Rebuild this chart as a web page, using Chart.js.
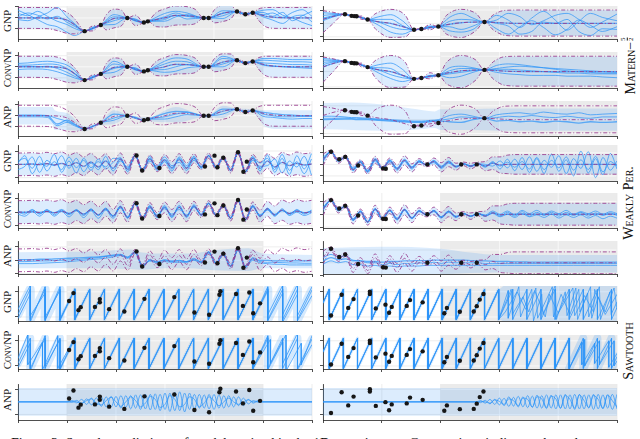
<!DOCTYPE html>
<html><head><meta charset="utf-8">
<script src="https://cdn.jsdelivr.net/npm/chart.js@4.4.1/dist/chart.umd.min.js"></script>
<style>
html,body{margin:0;padding:0;background:#fff;}
body{width:640px;height:439px;overflow:hidden;position:relative;font-family:"Liberation Serif","DejaVu Serif",serif;color:#111;}
canvas{position:absolute;}
.vl{position:absolute;white-space:nowrap;transform:translate(-50%,-50%) rotate(-90deg);line-height:1;}
.sc{font-variant:small-caps;}
.fr{display:inline-block;vertical-align:0.35em;font-size:7px;line-height:7px;text-align:center;margin-left:1px;}
.fr span{display:block;}
.fr .n{border-bottom:0.7px solid #111;}
#cap{position:absolute;left:11px;top:436px;font-size:14px;white-space:nowrap;}
</style></head><body>
<div class="vl" style="left:7px;top:21px;font-size:11px">GNP</div>
<div class="vl" style="left:7px;top:68px;font-size:11px"><span class="sc">Conv</span>NP</div>
<div class="vl" style="left:7px;top:117px;font-size:11px">ANP</div>
<div class="vl" style="left:7px;top:161px;font-size:11px">GNP</div>
<div class="vl" style="left:7px;top:209px;font-size:11px"><span class="sc">Conv</span>NP</div>
<div class="vl" style="left:7px;top:256px;font-size:11px">ANP</div>
<div class="vl" style="left:7px;top:302px;font-size:11px">GNP</div>
<div class="vl" style="left:7px;top:350px;font-size:11px"><span class="sc">Conv</span>NP</div>
<div class="vl" style="left:7px;top:400px;font-size:11px">ANP</div>
<div class="vl" style="left:629px;top:66px;font-size:14px"><span class="sc">Matern</span>&#8722;<span class="fr"><span class="n">5</span><span>2</span></span></div>
<div class="vl" style="left:629px;top:203px;font-size:14px"><span class="sc">Weakly Per.</span></div>
<div class="vl" style="left:629px;top:351px;font-size:14px"><span class="sc">Sawtooth</span></div>
<div id="cap">Figure 3: Sample predictions of models trained in the 1D experiments. Grey regions indicate where the</div>
<script>
// ================= DATA =================
// ---- Matern-5/2, left column ----
const mL_ctxX = [-1.64,-1.31,-0.77,-0.43,-0.35,0.79,0.89,1.47,1.64,1.79];
const mL_ctxY = [-2.4,-1.28,0,-0.83,-0.62,0,0,1.17,0.67,0.95];
const mL_tx = [-3,-2.4,-2.2,-2.0,-1.85,-1.75,-1.64,-1.475,-1.31,-1.2,-1.04,-0.88,-0.77,-0.6,-0.43,-0.35,-0.18,-0.01,0.22,0.45,0.62,0.79,0.89,1.01,1.18,1.35,1.47,1.555,1.64,1.715,1.79,1.9,2.0,2.1,2.3,2.6,3.0];
const mL_tm = [0,0,-0.05,-0.4,-1.2,-1.9,-2.4,-1.9,-1.28,-0.8,-0.1,0,0,-0.45,-0.83,-0.62,-0.3,0,0.45,0.4,0.25,0,0,0.3,0.85,1.1,1.17,0.9,0.67,0.78,0.95,0.7,0.45,0.25,0.08,0,0];
const mL_tu = [1.9,1.9,1.75,1.0,-0.1,-1.3,-2.4,-1.45,-1.28,0.56,1.6,1.36,0,0.5,-0.83,-0.62,0.98,1.65,2.2,2.05,1.53,0,0,1.5,2.35,2.3,1.17,1.2,0.67,1.03,0.95,1.6,1.85,1.9,1.9,1.9,1.9];
const mL_tl = [-1.9,-1.95,-2.3,-2.8,-2.9,-2.7,-2.4,-2.35,-1.28,-2.16,-1.8,-1.36,0,-1.4,-0.83,-0.62,-1.58,-1.65,-1.3,-1.25,-1.03,0,0,-0.9,-0.65,-0.1,1.17,0.6,0.67,0.53,0.95,-0.3,-1.3,-1.75,-1.9,-1.9,-1.9];
const mL_sx = [-3,-2.8,-2.6,-2.4,-2.2,-2.0,-1.85,-1.64,-1.475,-1.31,-1.04,-0.77,-0.6,-0.43,-0.35,-0.01,0.22,0.45,0.79,0.89,1.18,1.47,1.555,1.64,1.715,1.79,2.0,2.2,2.4,2.6,2.8,3.0];
const mLg1 = [0.8,0.4,1.2,0.3,-0.6,-1.2,-1.9,-2.4,-1.9,-1.28,0.6,0,-0.3,-0.83,-0.62,0.8,1.2,0.9,0,0,1.3,1.17,0.95,0.67,0.8,0.95,1.0,0.3,1.0,-0.5,0.4,1.2];
const mLg2 = [0.2,0.9,0.5,-0.2,0.3,-0.8,-1.5,-2.4,-1.7,-1.28,-0.5,0,-0.6,-0.83,-0.62,-0.6,0.2,0.6,0,0,0.4,1.17,0.9,0.67,0.75,0.95,0.2,-0.4,-1.0,0.2,0.5,-0.7];
const mLg3 = [1.4,0.6,-0.3,-1.2,-1.6,-2.6,-3.2,-2.4,-2.0,-1.28,-1.2,0,-0.2,-0.83,-0.62,0.2,0.9,0.3,0,0,0.9,1.17,0.85,0.67,0.85,0.95,1.4,1.5,0.5,0.0,-0.8,-1.4];
const mLg4 = [-0.3,-0.5,0.2,0.9,1.9,0.2,-1.0,-2.4,-1.8,-1.28,0.2,0,-0.5,-0.83,-0.62,-0.3,0.5,-0.2,0,0,-0.1,1.17,0.8,0.67,0.7,0.95,0.6,0.9,0.1,1.0,1.5,0.3];
const mLc1 = [0.3,0.3,0.4,0.5,0.4,-0.3,-1.2,-2.4,-1.8,-1.28,0.5,0,-0.3,-0.83,-0.62,0.5,1.0,0.9,0,0,1.5,1.17,0.95,0.67,0.85,0.95,1.2,1.1,1.0,0.9,0.9,0.8];
const mLc2 = [0,0.1,0.0,0.1,-0.3,-1.0,-1.7,-2.4,-1.9,-1.28,-0.3,0,-0.5,-0.83,-0.62,-0.5,0.0,0.4,0,0,0.5,1.17,0.9,0.67,0.75,0.95,0.7,0.6,0.5,0.4,0.4,0.3];
const mLc3 = [-0.5,-0.4,-0.4,-0.5,-0.9,-1.5,-2.0,-2.4,-2.0,-1.28,-1.0,0,-0.6,-0.83,-0.62,-1.0,-0.8,-0.2,0,0,0.0,1.17,0.85,0.67,0.7,0.95,0.3,0.1,0.0,-0.1,-0.2,-0.3];
const mLc4 = [0.6,0.7,0.9,1.0,0.8,0.3,-0.6,-2.4,-1.7,-1.28,1.0,0,-0.2,-0.83,-0.62,1.0,1.6,1.4,0,0,1.9,1.17,1.0,0.67,0.9,0.95,1.5,1.5,1.4,1.3,1.3,1.3];
const mLa1 = [0,0,0,0,-0.5,-1.0,-1.6,-2.4,-1.9,-1.28,-0.4,0,-0.4,-0.83,-0.62,-0.2,0.3,0.6,0,0,0.8,1.17,0.9,0.67,0.8,0.95,0.3,0.0,-0.2,-0.2,-0.1,-0.1];
const mLa2 = [0.1,0.1,0.1,0.0,-1.5,-0.8,-1.5,-2.4,-1.9,-1.28,0.3,0,-0.3,-0.83,-0.62,0.4,0.8,0.7,0,0,1.2,1.17,0.95,0.67,0.8,0.95,0.6,0.4,0.2,0.1,0.0,0.0];
const mLa3 = [-0.2,-0.2,-0.2,-0.3,-1.8,-1.2,-1.8,-2.4,-2.0,-1.28,-0.8,0,-0.5,-0.83,-0.62,-0.6,-0.2,0.2,0,0,0.3,1.17,0.85,0.67,0.75,0.95,-0.1,-0.3,-0.5,-0.6,-0.5,-0.5];
const mLa_bx = [-3,-2.3,-2.25,-2.0,-1.64,-1.31,-1.04,-0.77,-0.35,0.22,0.79,0.89,1.18,1.47,1.79,2.05,2.3,3];
const mLa_bu = [1.6,1.6,1.0,0.5,-1.9,-0.9,1.0,0.2,-0.3,1.6,0.2,0.2,1.8,1.3,1.2,1.0,1.0,1.0];
const mLa_bl = [-1.6,-1.6,-2.6,-2.6,-2.8,-1.7,-1.5,-0.4,-1.0,-1.2,-0.3,-0.3,-0.4,0.9,0.6,-2.0,-2.4,-2.4];

// ---- Matern-5/2, right column ----
const mR_ctxX = [0.373,0.486,0.531,0.571,0.758,1.548,1.673,1.961,2.746];
const mR_ctxY = [1.36,1.13,1.09,1.07,0.58,-0.95,-0.84,-0.47,0.22];
const mR_tx = [0,0.15,0.373,0.43,0.486,0.531,0.571,0.66,0.758,0.9,1.15,1.4,1.548,1.61,1.673,1.82,1.961,2.1,2.35,2.6,2.746,2.9,3.1,3.4,5];
const mR_tm = [0.6,1.0,1.36,1.25,1.13,1.09,1.07,0.85,0.58,0.3,0.0,-0.6,-0.95,-0.9,-0.84,-0.6,-0.47,-0.2,0.1,0.2,0.22,0.15,0.05,0,0];
const mR_tu = [1.9,1.7,1.36,1.4,1.13,1.09,1.07,1.1,0.58,1.5,2.1,1.2,-0.95,-0.8,-0.84,-0.15,-0.47,1.2,2.1,1.5,0.22,1.3,1.95,2.0,2.0];
const mR_tl = [-1.4,-0.2,1.36,1.1,1.13,1.09,1.07,0.6,0.58,-0.9,-2.1,-2.0,-0.95,-1.0,-0.84,-0.95,-0.47,-1.6,-2.1,-1.1,0.22,-1.0,-1.8,-1.9,-1.9];
const mR_sx = [0,0.15,0.373,0.486,0.571,0.758,0.95,1.15,1.35,1.548,1.673,1.82,1.961,2.15,2.35,2.55,2.746,2.95,3.15,3.35,3.55,3.75,3.95,4.15,4.35,4.55,4.75,5.0];
const mRg1 = [1.2,1.3,1.36,1.13,1.07,0.58,1.0,1.3,0.4,-0.95,-0.84,-0.6,-0.47,0.9,1.5,0.8,0.22,1.2,0.5,-0.6,0.8,1.8,0.5,-1.0,0.3,1.5,0.9,0.4];
const mRg2 = [0.4,0.9,1.36,1.13,1.07,0.58,0.2,-0.5,-0.9,-0.95,-0.84,-0.5,-0.47,-0.5,-0.9,-0.4,0.22,-0.8,-1.6,-0.5,0.4,-0.6,-1.7,-0.9,0.5,-0.3,-1.2,-0.5];
const mRg3 = [1.6,1.5,1.36,1.13,1.07,0.58,-0.3,-1.3,-1.6,-0.95,-0.84,-0.4,-0.47,0.3,0.6,0.5,0.22,0.5,1.5,1.0,-0.2,0.4,1.2,1.5,0.6,-0.6,0.2,1.4];
const mRg4 = [0.8,1.1,1.36,1.13,1.07,0.58,0.6,0.6,-0.3,-0.95,-0.84,-0.7,-0.47,-1.1,-1.3,-0.9,0.22,0.0,-0.4,-1.6,-1.2,0.2,0.0,0.6,-1.2,-1.8,-0.8,-0.9];
const mRc1 = [1.5,1.45,1.36,1.13,1.07,0.58,0.9,1.1,0.3,-0.95,-0.84,-0.6,-0.47,0.5,0.7,0.5,0.22,0.4,0.6,0.7,0.6,0.5,0.4,0.3,0.2,0.1,0.0,-0.1];
const mRc2 = [0.9,1.2,1.36,1.13,1.07,0.58,0.2,-0.4,-0.8,-0.95,-0.84,-0.5,-0.47,-0.3,-0.1,0.1,0.22,0.3,0.3,0.2,0.1,0.0,-0.1,-0.2,-0.2,-0.3,-0.3,-0.3];
const mRc3 = [1.2,1.3,1.36,1.13,1.07,0.58,-0.2,-0.9,-1.3,-0.95,-0.84,-0.55,-0.47,-0.8,-0.6,-0.1,0.22,-0.1,-0.3,-0.4,-0.5,-0.5,-0.5,-0.6,-0.6,-0.6,-0.7,-0.8];
const mRc4 = [1.7,1.6,1.36,1.13,1.07,0.58,0.5,0.4,-0.5,-0.95,-0.84,-0.7,-0.47,0.1,0.4,0.4,0.22,0.8,1.0,0.9,0.7,0.5,0.3,0.1,0.0,-0.1,-0.2,-0.2];
const mRa1 = [0.2,0.2,0.25,0.2,0.2,0.1,0.0,-0.1,-0.2,-0.3,-0.3,-0.2,-0.1,0.1,0.4,0.3,0.2,0.3,0.5,0.4,0.6,0.4,0.3,0.5,0.3,0.2,0.4,0.4];
const mRa2 = [0.0,0.05,0.1,0.1,0.0,0.0,-0.1,-0.2,-0.3,-0.4,-0.4,-0.3,-0.2,-0.3,-0.4,0.0,0.2,-0.2,-0.1,-0.3,-0.2,-0.4,-0.2,-0.3,-0.5,-0.3,-0.4,-0.3];
const mRa3 = [0.5,0.5,0.4,0.3,0.3,0.2,0.1,0.0,-0.1,-0.2,-0.2,-0.1,0.0,0.6,0.8,0.5,0.2,0.7,0.9,1.0,0.8,1.1,0.9,0.8,1.0,0.7,0.8,0.9];
const mRa_bx = [0,0.5,1.0,1.5,1.9,2.0,2.5,3.0,5];
const mRa_bu = [2.4,2.5,2.2,1.6,1.2,1.5,1.5,1.6,1.6];
const mRa_bl = [-1.4,-1.5,-1.6,-1.5,-1.2,-1.5,-1.5,-1.6,-1.6];

// ---- Weakly periodic, left column ----
const wL_ctxX = [-0.581,-0.466,-0.114,0.815,1.01,1.07,1.19,1.49,1.60,1.67];
const wL_ctxY = [1.33,-0.93,-0.56,-0.33,1.3,-0.44,0.99,1.81,-1.11,0.4];
const wL_x = [-3.0,-2.86,-2.71,-2.56,-2.41,-2.26,-2.11,-1.96,-1.81,-1.66,-1.51,-1.36,-1.21,-1.06,-0.91,-0.76,-0.61,-0.46,-0.31,-0.16,-0.01,0.14,0.29,0.44,0.59,0.74,0.89,1.04,1.19,1.34,1.49,1.64,1.79,1.94,2.09,2.24,2.39,2.54,2.69,2.84,2.99];
const wL_tm = [0,0,0.05,-0.05,0.1,-0.1,0.15,-0.2,0.25,-0.3,0.35,-0.4,0.5,-0.6,0.8,-0.8,1.33,-0.93,0.8,-0.6,0.7,-0.5,0.7,-0.6,0.9,-0.4,1.3,-0.45,1.0,-0.9,1.8,-1.1,0.9,-0.6,0.5,-0.4,0.3,-0.2,0.15,-0.1,0.05];
const wL_tu = [1.7,1.7,1.75,1.65,1.8,1.6,1.85,1.4,1.75,1.1,1.65,0.8,1.6,0.4,1.7,-0.1,1.63,-0.63,1.4,-0.1,1.5,0.4,1.6,0.2,1.6,0,1.7,-0.15,1.3,-0.5,2.1,-0.8,1.5,0.3,1.6,0.9,1.8,1.4,1.85,1.6,1.75];
const wL_tl = [-1.7,-1.7,-1.65,-1.75,-1.6,-1.8,-1.55,-1.8,-1.25,-1.7,-0.95,-1.6,-0.6,-1.6,-0.1,-1.5,1.03,-1.23,0.2,-1.1,-0.1,-1.4,-0.2,-1.4,0.2,-0.8,0.9,-0.75,0.7,-1.3,1.5,-1.4,0.3,-1.5,-0.6,-1.7,-1.2,-1.8,-1.55,-1.8,-1.65];
const wLg1 = [0.5,0.9,-0.6,1.2,-1.0,0.4,-0.8,1.1,-0.5,0.6,-0.9,0.8,-0.7,0.3,1.0,-1.1,1.33,-0.93,1.2,-0.9,0.4,-1.0,1.1,-0.2,1.2,-0.6,1.3,-0.45,1.0,-0.9,1.8,-1.1,1.2,-1.0,1.4,-1.2,0.9,-1.5,1.3,-0.7,1.6];
const wLg2 = [-0.8,-0.3,1.1,-1.2,0.6,-0.2,1.3,-0.6,0.9,-1.1,0.2,-0.8,1.2,-1.0,0.5,-0.4,1.33,-0.93,0.5,-0.3,1.1,-0.2,0.3,-0.9,0.6,-0.3,1.3,-0.45,1.0,-0.9,1.8,-1.1,0.6,-0.3,-0.2,0.8,-1.3,0.5,-0.4,1.2,-1.6];
const wLg3 = [0.2,1.3,-1.4,0.2,-0.3,1.5,-1.2,0.5,-1.3,0.9,-0.5,0.4,-0.4,0.9,0.7,-0.6,1.33,-0.93,0.9,-0.7,0.6,-0.7,0.9,-0.5,1.0,-0.5,1.3,-0.45,1.0,-0.9,1.8,-1.1,1.0,0.2,0.9,-0.8,1.5,-0.9,0.4,-1.4,0.8];
const wLc1 = [0.0,-0.3,0.4,-0.3,0.4,-0.4,0.3,-0.4,0.4,-0.5,0.5,-0.5,0.6,-0.6,0.9,-0.9,1.33,-0.93,1.0,-0.8,1.0,-0.8,1.0,-0.8,1.1,-0.5,1.3,-0.45,1.0,-0.9,1.8,-1.1,1.0,-0.7,0.6,-0.5,0.5,-0.4,0.4,-0.3,0.3];
const wLc2 = [0.1,-0.1,0.3,-0.2,0.3,-0.1,0.4,-0.2,0.3,-0.3,0.4,-0.4,0.4,-0.5,0.6,-0.7,1.33,-0.93,0.6,-0.4,0.5,-0.3,0.4,-0.4,0.7,-0.3,1.3,-0.45,1.0,-0.9,1.8,-1.1,0.7,-0.4,0.4,-0.3,0.2,-0.2,0.3,-0.1,0.2];
const wLc3 = [-0.3,-0.6,0.1,-0.6,0.2,-0.6,0.1,-0.7,0.2,-0.8,0.2,-0.9,0.3,-0.9,0.7,-0.8,1.33,-0.93,0.8,-0.7,0.8,-0.7,0.8,-0.6,0.9,-0.4,1.3,-0.45,1.0,-0.9,1.8,-1.1,0.9,-0.5,0.3,-0.6,0.3,-0.5,0.0,-0.5,-0.1];
const wLa1 = [-0.2,-0.2,-0.15,-0.1,-0.1,-0.05,0,0.05,0.1,0.2,0.3,0.4,0.6,0.8,0.9,0.5,1.33,-0.93,0.1,-0.3,0.1,-0.2,0.0,-0.2,0.3,-0.3,1.3,-0.45,1.0,-0.9,1.7,-1.0,0.4,-0.2,-0.3,-0.3,-0.35,-0.4,-0.4,-0.45,-0.45];
const wLa2 = [0.1,0.1,0.1,0.15,0.15,0.2,0.25,0.3,0.35,0.4,0.45,0.5,0.6,0.7,0.8,0.4,1.2,-0.8,0.0,-0.2,0.0,-0.1,-0.1,-0.2,0.1,-0.2,1.2,-0.4,0.9,-0.8,1.6,-0.9,0.2,0.0,0.0,-0.1,-0.1,-0.1,-0.1,-0.1,-0.1];
const wLa3 = [-0.5,-0.5,-0.5,-0.45,-0.4,-0.35,-0.3,-0.2,-0.1,0.0,0.1,0.2,0.3,0.5,0.7,0.3,1.1,-0.9,-0.1,-0.4,-0.2,-0.3,-0.3,-0.3,0.0,-0.4,1.1,-0.5,0.8,-1.0,1.5,-1.1,0.0,-0.4,-0.5,-0.6,-0.6,-0.7,-0.7,-0.7,-0.7];
const wLa_bx = [-3,-1.5,-0.7,-0.5,0,0.5,1.0,1.7,2.0,3.0];
const wLa_bu = [1.2,1.3,1.6,1.2,1.0,1.0,1.5,1.8,1.0,0.8];
const wLa_bl = [-1.2,-1.2,-1.3,-1.4,-1.2,-1.2,-1.5,-1.6,-1.2,-1.2];

// ---- Weakly periodic, right column ----
const wR_ctxX = [0.136,0.276,0.378,0.598,1.022,1.068,1.775,2.351,2.615];
const wR_ctxY = [2.2,0.9,1.3,-0.2,-0.7,-0.75,0,0,0];
const wR_x = [0,0.136,0.261,0.386,0.511,0.636,0.761,0.886,1.011,1.136,1.261,1.386,1.511,1.636,1.761,1.886,2.011,2.136,2.261,2.386,2.511,2.636,2.761,2.886,3.011,3.136,3.261,3.386,3.511,3.636,3.761,3.886,4.011,4.136,4.261,4.386,4.511,4.636,4.761,4.886,5.0];
const wR_tm = [0.8,2.2,0.6,1.3,-0.9,0.4,-1.2,0.8,-0.7,0.6,-0.8,0.7,-0.6,0.5,-0.1,0.5,-0.5,0.4,-0.4,0.1,-0.3,0.1,-0.3,0.2,-0.1,0,0,0,0,0,0,0,0,0,0,0,0,0,0,0,0];
const wR_tu = [1.8,2.5,1.0,1.6,-0.3,0.8,-0.7,1.4,-0.4,1.1,-0.1,1.5,0.1,1.0,0.2,1.1,0.3,1.2,0.2,0.4,0.2,0.4,0.5,1.3,1.3,1.6,1.7,1.7,1.7,1.7,1.7,1.7,1.7,1.7,1.7,1.7,1.7,1.7,1.7,1.7,1.7];
const wR_tl = [-0.2,1.9,0.2,1.0,-1.5,0.0,-1.7,0.2,-1.0,0.1,-1.5,-0.1,-1.3,0.0,-0.4,-0.1,-1.3,-0.4,-1.0,-0.2,-0.8,-0.2,-1.1,-0.9,-1.5,-1.6,-1.7,-1.7,-1.7,-1.7,-1.7,-1.7,-1.7,-1.7,-1.7,-1.7,-1.7,-1.7,-1.7,-1.7,-1.7];
const wRg1 = [0.9,2.2,0.8,1.3,-0.6,0.6,-1.0,1.0,-0.7,0.8,-0.6,0.9,-0.4,0.7,-0.1,0.7,-0.3,0.6,-0.3,0.1,-0.2,0.1,-0.5,0.5,-0.8,0.9,-1.1,1.2,-1.4,1.0,-1.6,1.8,-1.2,0.8,-2.0,2.3,-1.5,1.0,-1.8,1.9,-0.8];
const wRg2 = [0.5,2.2,0.5,1.3,-1.1,0.3,-1.4,0.6,-0.8,0.4,-1.0,0.5,-0.8,0.4,-0.1,0.3,-0.7,0.2,-0.5,0.1,-0.4,0.1,0.0,-0.3,0.6,-0.6,0.9,-0.9,1.3,-1.2,0.7,-0.5,1.5,-1.6,1.0,-0.7,2.2,-2.3,1.2,-1.0,0.6];
const wRg3 = [1.2,2.2,0.7,1.3,-0.8,0.5,-1.2,0.9,-0.6,0.7,-0.7,0.7,-0.5,0.5,-0.1,0.6,-0.5,0.5,-0.4,0.1,-0.3,0.1,-0.3,0.3,-0.3,0.4,-0.5,0.5,-0.8,1.2,-0.9,0.7,-0.6,1.3,-1.0,0.8,-0.9,1.4,-1.3,0.5,-0.3];
const wRc1 = [0.9,2.2,0.7,1.3,-0.7,0.5,-1.1,0.9,-0.7,0.7,-0.6,0.8,-0.5,0.6,-0.1,0.6,-0.4,0.5,-0.3,0.1,-0.3,0.1,-0.3,0.3,-0.3,0.3,-0.3,0.4,-0.3,0.3,-0.2,0.3,-0.3,0.3,-0.2,0.3,-0.3,0.2,-0.2,0.2,-0.2];
const wRc2 = [0.6,2.2,0.5,1.3,-1.0,0.3,-1.3,0.7,-0.8,0.5,-0.9,0.6,-0.7,0.4,-0.1,0.4,-0.6,0.3,-0.5,0.1,-0.3,0.1,-0.2,0.1,-0.4,0.0,-0.5,0.1,-0.4,-0.1,-0.5,0.0,-0.6,-0.1,-0.5,-0.1,-0.6,-0.2,-0.7,-0.3,-0.6];
const wRc3 = [1.1,2.2,0.8,1.3,-0.8,0.5,-1.2,0.8,-0.6,0.6,-0.7,0.7,-0.6,0.5,-0.1,0.6,-0.4,0.5,-0.4,0.1,-0.3,0.1,-0.1,0.5,0.0,0.5,-0.1,0.6,0.1,0.6,0.0,0.5,0.1,0.6,0.0,0.4,0.1,0.5,0.0,0.4,0.1];
const wRa1 = [0.8,1.3,0.9,1.1,0.4,0.3,0.0,0.0,-0.3,-0.1,-0.3,-0.1,-0.2,0.0,-0.1,0.1,-0.1,0.1,0.0,0.0,0.0,0.0,-0.1,-0.1,-0.1,-0.1,-0.1,-0.1,-0.1,-0.1,-0.1,-0.1,-0.1,-0.1,-0.1,-0.1,-0.1,-0.1,-0.1,-0.1,-0.1];
const wRa2 = [0.3,0.8,0.5,0.6,0.3,0.3,0.2,0.2,0.1,0.2,0.2,0.3,0.3,0.35,0.35,0.4,0.4,0.4,0.4,0.4,0.35,0.3,0.3,0.25,0.2,0.2,0.15,0.15,0.1,0.1,0.1,0.1,0.1,0.1,0.1,0.1,0.1,0.1,0.1,0.1,0.1];
const wRa3 = [-0.2,0.3,0.0,0.2,-0.3,-0.3,-0.5,-0.4,-0.6,-0.5,-0.6,-0.5,-0.5,-0.5,-0.4,-0.4,-0.4,-0.4,-0.4,-0.4,-0.4,-0.4,-0.4,-0.4,-0.4,-0.4,-0.4,-0.4,-0.4,-0.4,-0.4,-0.4,-0.4,-0.4,-0.4,-0.4,-0.4,-0.4,-0.4,-0.4,-0.4];
const wRa_bx = [0,1,2,2.5,3,5];
const wRa_bu = [2.3,2.5,2.2,1.6,1.2,1.2];
const wRa_bl = [-2.0,-2.0,-1.8,-1.6,-1.5,-1.5];

// ---- Sawtooth, left column ----
const sL_ctxX = [-1.957,-1.868,-1.766,-1.72,-1.43,-1.33,-1.33,-1.14,-0.83,-0.42,0.19,0.60,0.90,1.11,1.13,1.45,1.59,1.72,1.80,1.94];
const sL_ctxY = [0.635,0.949,0.27,0.39,0.40,0.71,0.58,0.31,0.22,0.72,0.79,0.18,0.09,0.88,1.02,0.91,0.44,0.97,0.15,0.54];
const sL_x = [-3,-2.75,-2.75,-2.447,-2.447,-2.144,-2.144,-1.841,-1.841,-1.538,-1.538,-1.235,-1.235,-0.932,-0.932,-0.629,-0.629,-0.326,-0.326,-0.023,-0.023,0.28,0.28,0.583,0.583,0.886,0.886,1.189,1.189,1.492,1.492,1.795,1.795,2.098,2.098,2.401,2.401,2.704,2.704,3];
const sL_x2 = [-3,-2.8,-2.8,-2.5,-2.5,-2.19,-2.19,-1.841,-1.841,-1.538,-1.538,-1.235,-1.235,-0.932,-0.932,-0.629,-0.629,-0.326,-0.326,-0.023,-0.023,0.28,0.28,0.583,0.583,0.886,0.886,1.189,1.189,1.492,1.492,1.795,1.795,2.15,2.15,2.47,2.47,2.78,2.78,3];
const sL_y = [0.11,
  1.1,-0.1, 1.1,-0.1, 1.1,-0.1, 1.1,-0.1, 1.1,-0.1,
  1.1,-0.1, 1.1,-0.1, 1.1,-0.1, 1.1,-0.1, 1.1,-0.1,
  1.1,-0.1, 1.1,-0.1, 1.1,-0.1, 1.1,-0.1, 1.1,-0.1,
  1.1,-0.1, 1.1,-0.1, 1.1,-0.1, 1.1,-0.1,
  1.07];
const sL_y2 = [0.3,
  1.25,0.05, 0.95,-0.15, 1.2,-0.1, 1.12,-0.08,
  1.1,-0.1, 1.1,-0.1, 1.1,-0.1, 1.1,-0.1, 1.1,-0.1, 1.1,-0.1,
  1.1,-0.1, 1.1,-0.1, 1.1,-0.1, 1.1,-0.1, 1.1,-0.1, 1.1,-0.1,
  1.05,0.1, 1.25,-0.2, 0.9,0.05,
  1.2];
const sL_y3 = [-0.05,
  0.9,-0.2, 1.2,0.0, 1.05,-0.15, 1.08,-0.12,
  1.1,-0.1, 1.1,-0.1, 1.1,-0.1, 1.1,-0.1, 1.1,-0.1, 1.1,-0.1,
  1.1,-0.1, 1.1,-0.1, 1.1,-0.1, 1.1,-0.1, 1.1,-0.1, 1.1,-0.1,
  1.2,-0.15, 0.95,0.1, 1.3,-0.15,
  0.85];
const sLa_x = [-3,-2,-1.9,-1.8,-1.7,-1.6,-1.5,-1.4,-1.3,-1.2,-1.1,-1,-0.9,-0.8,-0.7,-0.6,-0.5,-0.4,-0.3,-0.2,-0.1,0,0.1,0.2,0.3,0.4,0.5,0.6,0.7,0.8,0.9,1,1.1,1.2,1.3,1.4,1.5,1.6,1.7,1.8,1.9,2,3];
const sLa1 = [0.5,0.5,0.52,0.46,0.6,0.4,0.65,0.35,0.7,0.3,0.72,0.3,0.75,0.28,0.75,0.25,0.78,0.22,0.8,0.2,0.8,0.2,0.85,0.15,0.9,0.1,0.85,0.2,0.8,0.25,0.8,0.2,0.78,0.25,0.75,0.3,0.7,0.35,0.6,0.45,0.55,0.5,0.5];
const sLa2 = [0.5,0.5,0.48,0.56,0.42,0.62,0.38,0.66,0.32,0.7,0.3,0.72,0.25,0.75,0.22,0.78,0.2,0.8,0.18,0.82,0.15,0.85,0.12,0.88,0.15,0.85,0.2,0.8,0.25,0.78,0.22,0.8,0.25,0.75,0.3,0.7,0.35,0.65,0.42,0.55,0.5,0.5,0.5];
const sLa3 = [0.5,0.5,0.55,0.5,0.45,0.55,0.62,0.45,0.38,0.55,0.68,0.5,0.32,0.5,0.7,0.55,0.3,0.45,0.72,0.6,0.28,0.4,0.75,0.6,0.3,0.4,0.7,0.6,0.3,0.45,0.7,0.55,0.35,0.5,0.65,0.5,0.4,0.5,0.58,0.5,0.5,0.5,0.5];
const sLa_bx = [-3,3];
const sLa_bu = [1.05,1.05];
const sLa_bl = [-0.05,-0.05];

// ---- Sawtooth, right column ----
const sR_ctxX = [0.136,0.317,0.429,0.520,0.797,0.797,0.898,1.062,1.124,1.169,1.424,1.480,1.695,2.063,2.107,2.327,2.564,2.615,2.666,2.729];
const sR_ctxY = [0.06,0.88,0.36,0.71,1.0,0.91,0.34,0.49,0.17,0.40,0.44,0.67,0.58,0.15,0.36,0.21,0.22,0.43,0.69,0.91];
const sR_x = [0,0.107,0.107,0.347,0.347,0.587,0.587,0.827,0.827,1.067,1.067,1.307,1.307,1.547,1.547,1.787,1.787,2.027,2.027,2.267,2.267,2.507,2.507,2.747,2.747,2.987,2.987,3.227,3.227,3.467,3.467,3.707,3.707,3.947,3.947,4.187,4.187,4.427,4.427,4.667,4.667,4.907,4.907,5];
const sR_y = [0.56,
  1.1,-0.1, 1.1,-0.1, 1.1,-0.1, 1.1,-0.1, 1.1,-0.1,
  1.1,-0.1, 1.1,-0.1, 1.1,-0.1, 1.1,-0.1, 1.1,-0.1,
  1.1,-0.1, 1.1,-0.1, 1.1,-0.1, 1.1,-0.1, 1.1,-0.1,
  1.1,-0.1, 1.1,-0.1, 1.1,-0.1, 1.1,-0.1, 1.1,-0.1,
  1.1,-0.1,
  0.37];
const sRg2_tx = [3.15,3.15,3.33,3.36,3.55,3.58,3.72,3.74,3.95,3.97,4.12,4.15,4.3,4.33,4.5,4.52,4.7,4.72,4.88,4.9,5.0];
const sRg2_ty = [1.05,-0.05,1.2,0.0,1.1,-0.15,0.9,0.1,1.25,-0.1,1.0,0.05,1.15,-0.1,0.95,0.0,1.2,-0.1,1.0,0.1,0.6];
const sRg3_tx = [3.2,3.22,3.4,3.5,3.62,3.65,3.8,3.9,3.92,4.05,4.2,4.35,4.37,4.55,4.57,4.68,4.8,4.95,5.0];
const sRg3_ty = [1.1,0.1,0.8,0.2,1.15,-0.05,0.7,1.2,0.0,0.9,0.1,1.1,0.2,1.2,-0.05,0.8,0.2,1.15,0.3];
const sRg4_tx = [3.1,3.3,3.45,3.6,3.78,3.85,4.0,4.25,4.28,4.45,4.6,4.62,4.8,5.0];
const sRg4_ty = [0.2,1.0,0.3,1.05,0.0,0.9,0.15,1.15,0.05,0.85,0.2,1.1,0.1,0.9];
const sRg_bx = [3.0,3.1,5];
const sRg_bu = [1.1,1.3,1.3];
const sRg_bl = [-0.1,-0.2,-0.2];
const sRc2_tx = [4.45,4.45,4.7,4.7,4.95,4.95,5.0];
const sRc2_ty = [1.05,0.0,1.0,0.05,1.0,0.0,0.2];
const sRc3_tx = [4.40,4.40,4.62,4.62,4.86,4.86,5.0];
const sRc3_ty = [0.95,0.05,0.9,0.1,1.0,-0.05,0.5];
const sRa_x = [0,2.6,2.68,2.76,2.84,2.92,3.0,3.08,3.16,3.24,3.32,3.4,3.48,3.56,3.64,3.72,3.8,3.88,3.96,4.04,4.12,4.2,4.28,4.36,4.44,4.52,4.6,4.68,4.76,4.84,4.92,5.0];
const sRa1 = [0.5,0.5,0.55,0.45,0.6,0.4,0.65,0.35,0.7,0.33,0.72,0.3,0.75,0.28,0.77,0.25,0.78,0.25,0.78,0.25,0.8,0.22,0.8,0.22,0.78,0.25,0.8,0.22,0.78,0.25,0.8,0.22];
const sRa2 = [0.5,0.5,0.47,0.56,0.42,0.6,0.38,0.64,0.32,0.68,0.3,0.7,0.27,0.73,0.25,0.75,0.23,0.77,0.22,0.78,0.22,0.78,0.2,0.8,0.22,0.78,0.2,0.8,0.22,0.78,0.2,0.8];
const sRa3 = [0.5,0.5,0.52,0.5,0.45,0.58,0.52,0.4,0.62,0.55,0.35,0.65,0.6,0.3,0.7,0.62,0.28,0.72,0.62,0.25,0.75,0.6,0.25,0.78,0.55,0.28,0.75,0.6,0.25,0.78,0.55,0.3];
const sRa_bx = [0,5];
const sRa_bu = [1.05,1.05];
const sRa_bl = [-0.05,-0.05];

// axis ticks (values)
const yTicksGP = [-2,0,2];
const yTicksSaw = [0,1];

// ================= LAYOUT / STYLE =================
const ROWS = [[3,39],[49,88],[98,136],[142,181],[190,228],[238,274],[283,321],[332,369],[381,420]];
const XL = {min:-3,max:3,g:[-2,2],left:18};
const XR = {min:0,max:5,g:[2,5],left:323};
const COL = {band:'rgba(45,145,245,0.17)', line:'rgba(45,148,248,0.72)', pur:'rgba(150,55,140,0.85)', dot:'#161616', thick:'rgba(45,145,245,0.2)'};

function xy(xs,ys){return xs.map((x,i)=>({x:x,y:ys[i]}));}
function band(xs,up,lo,smooth){
  const m = smooth===false?'default':'monotone';
  return [{data:xy(xs,up),fill:'+1',backgroundColor:COL.band,borderWidth:0,pointRadius:0,cubicInterpolationMode:m,tension:0,order:3},
          {data:xy(xs,lo),fill:false,borderWidth:0,pointRadius:0,cubicInterpolationMode:m,tension:0,order:3}];
}
function smp(xs,ys,w,smooth){
  return {data:xy(xs,ys),borderColor:COL.line,borderWidth:w||1,pointRadius:0,fill:false,cubicInterpolationMode:smooth===false?'default':'monotone',tension:0,order:2};
}
function truth(xs,m,u,l){
  return [m,u,l].map(ys=>({data:xy(xs,ys),borderColor:COL.pur,borderWidth:1,borderDash:[4,2,1,2],pointRadius:0,fill:false,cubicInterpolationMode:'monotone',tension:0,order:1}));
}
function dots(xs,ys){
  return {data:xy(xs,ys),showLine:false,pointRadius:2.2,pointBackgroundColor:COL.dot,pointBorderColor:COL.dot,pointBorderWidth:0,order:0};
}
function thick(xs,ys,g,wIn,wOut){
  return {data:xy(xs,ys),borderColor:COL.thick,borderWidth:wIn,borderJoinStyle:'round',borderCapStyle:'round',pointRadius:0,fill:false,tension:0,order:3,
    segment:{borderWidth:c=>{const mx=(c.p0.parsed.x+c.p1.parsed.x)/2;return (mx>g[0]&&mx<g[1])?wIn:wOut;}}};
}
function cat(a,n,b){return a.slice(0,n).concat(b);}

const bgPlugin = {
  id:'bg',
  beforeDraw(chart,args,opts){
    const ctx=chart.ctx, a=chart.chartArea, x=chart.scales.x, y=chart.scales.y;
    const g0=x.getPixelForValue(opts.from), g1=x.getPixelForValue(opts.to);
    ctx.save();
    ctx.fillStyle='#ebebeb';
    ctx.fillRect(g0,a.top,g1-g0,a.bottom-a.top);
    ctx.lineWidth=0.8;
    const seg=(x0,y0,x1,y1,c)=>{ctx.strokeStyle=c;ctx.beginPath();ctx.moveTo(x0,y0);ctx.lineTo(x1,y1);ctx.stroke();};
    y.ticks.forEach(t=>{const py=y.getPixelForValue(t.value);
      if(py<a.top||py>a.bottom)return;
      seg(a.left,py,g0,py,'#e8e8e8');seg(g1,py,a.right,py,'#e8e8e8');seg(g0,py,g1,py,'#fbfbfb');});
    x.ticks.forEach(t=>{const px=x.getPixelForValue(t.value);
      const inside=t.value>opts.from&&t.value<opts.to;
      seg(px,a.top,px,a.bottom,inside?'#fbfbfb':'#e8e8e8');});
    ctx.restore();
  }
};

function panel(col,row,yr,yt,sets){
  const X=col===0?XL:XR; const top=ROWS[row][0], bot=ROWS[row][1];
  const cv=document.createElement('canvas');
  const W=302,H=bot-top+5;
  cv.width=W;cv.height=H;
  cv.style.left=(X.left-4)+'px';cv.style.top=(top-1)+'px';
  cv.style.width=W+'px';cv.style.height=H+'px';
  document.body.appendChild(cv);
  const gridOpt={drawOnChartArea:false,drawTicks:true,tickLength:3,tickColor:'#222',tickWidth:0.8};
  new Chart(cv,{type:'line',data:{datasets:sets.flat()},plugins:[bgPlugin],options:{
    responsive:false,animation:false,devicePixelRatio:1,
    layout:{padding:{top:1,right:3,bottom:0,left:0}},
    plugins:{legend:{display:false},tooltip:{enabled:false},bg:{from:X.g[0],to:X.g[1]}},
    scales:{
      x:{type:'linear',min:X.min,max:X.max,ticks:{display:false,stepSize:1},grid:gridOpt,border:{display:true,color:'#222',width:0.8},afterFit:s=>{s.height=4;}},
      y:{type:'linear',min:yr[0],max:yr[1],afterBuildTicks:s=>{s.ticks=yt.map(v=>({value:v}));},ticks:{display:false},grid:gridOpt,border:{display:true,color:'#222',width:0.8},afterFit:s=>{s.width=4;}}
    }
  }});
}

// ---- Matern rows ----
panel(0,0,[-3.83,2.17],yTicksGP,[band(mL_tx,mL_tu,mL_tl),smp(mL_sx,mLg1),smp(mL_sx,mLg2),smp(mL_sx,mLg3),smp(mL_sx,mLg4),smp(mL_tx,mL_tm,1.3),truth(mL_tx,mL_tm,mL_tu,mL_tl),dots(mL_ctxX,mL_ctxY)]);
panel(0,1,[-3.83,2.67],yTicksGP,[band(mL_tx,mL_tu,mL_tl),smp(mL_sx,mLc1),smp(mL_sx,mLc2),smp(mL_sx,mLc3),smp(mL_sx,mLc4),smp(mL_tx,mL_tm,1.3),truth(mL_tx,mL_tm,mL_tu,mL_tl),dots(mL_ctxX,mL_ctxY)]);
panel(0,2,[-3.67,2.67],yTicksGP,[band(mLa_bx,mLa_bu,mLa_bl),smp(mL_sx,mLa1),smp(mL_sx,mLa2,1.3),smp(mL_sx,mLa3),truth(mL_tx,mL_tm,mL_tu,mL_tl),dots(mL_ctxX,mL_ctxY)]);
panel(1,0,[-2.33,2.6],yTicksGP,[band(mR_tx,mR_tu,mR_tl),smp(mR_sx,mRg1),smp(mR_sx,mRg2),smp(mR_sx,mRg3),smp(mR_sx,mRg4),smp(mR_tx,mR_tm,1.3),truth(mR_tx,mR_tm,mR_tu,mR_tl),dots(mR_ctxX,mR_ctxY)]);
panel(1,1,[-2.14,2.55],yTicksGP,[band(mR_tx,mR_tu,mR_tl),smp(mR_sx,mRc1),smp(mR_sx,mRc2),smp(mR_sx,mRc3),smp(mR_sx,mRc4),smp(mR_tx,mR_tm,1.3),truth(mR_tx,mR_tm,mR_tu,mR_tl),dots(mR_ctxX,mR_ctxY)]);
panel(1,2,[-2.36,2.7],yTicksGP,[band(mRa_bx,mRa_bu,mRa_bl),smp(mR_sx,mRa1),smp(mR_sx,mRa2,1.3),smp(mR_sx,mRa3),truth(mR_tx,mR_tm,mR_tu,mR_tl),dots(mR_ctxX,mR_ctxY)]);
// ---- Weakly periodic rows ----
panel(0,3,[-2.5,2.9],yTicksGP,[band(wL_x,wL_tu,wL_tl),smp(wL_x,wLg1),smp(wL_x,wLg2),smp(wL_x,wLg3),smp(wL_x,wL_tm,1.3),truth(wL_x,wL_tm,wL_tu,wL_tl),dots(wL_ctxX,wL_ctxY)]);
panel(0,4,[-2.34,2.83],yTicksGP,[band(wL_x,wL_tu,wL_tl),smp(wL_x,wLc1),smp(wL_x,wLc2),smp(wL_x,wLc3),smp(wL_x,wL_tm,1.3),truth(wL_x,wL_tm,wL_tu,wL_tl),dots(wL_ctxX,wL_ctxY)]);
panel(0,5,[-2.05,2.88],yTicksGP,[band(wLa_bx,wLa_bu,wLa_bl),smp(wL_x,wLa1),smp(wL_x,wLa2,1.3),smp(wL_x,wLa3),truth(wL_x,wL_tm,wL_tu,wL_tl),dots(wL_ctxX,wL_ctxY)]);
panel(1,3,[-2.88,3.36],yTicksGP,[band(wR_x,wR_tu,wR_tl),smp(wR_x,wRg1),smp(wR_x,wRg2),smp(wR_x,wRg3),smp(wR_x,wR_tm,1.3),truth(wR_x,wR_tm,wR_tu,wR_tl),dots(wR_ctxX,wR_ctxY)]);
panel(1,4,[-2.14,3.3],yTicksGP,[band(wR_x,wR_tu,wR_tl),smp(wR_x,wRc1),smp(wR_x,wRc2),smp(wR_x,wRc3),smp(wR_x,wR_tm,1.3),truth(wR_x,wR_tm,wR_tu,wR_tl),dots(wR_ctxX,wR_ctxY)]);
panel(1,5,[-1.75,3.4],yTicksGP,[band(wRa_bx,wRa_bu,wRa_bl),smp(wR_x,wRa1),smp(wR_x,wRa2,1.3),smp(wR_x,wRa3),truth(wR_x,wR_tm,wR_tu,wR_tl),dots(wR_ctxX,wR_ctxY)]);
// ---- Sawtooth rows ----
panel(0,6,[-0.16,1.23],yTicksSaw,[thick(sL_x,sL_y,XL.g,3,9),smp(sL_x,sL_y,1,false),smp(sL_x,sL_y2,1,false),smp(sL_x,sL_y3,1,false),dots(sL_ctxX,sL_ctxY)]);
panel(0,7,[-0.12,1.23],yTicksSaw,[thick(sL_x,sL_y,XL.g,3,8),smp(sL_x,sL_y,1,false),smp(sL_x2,sL_y2,1,false),smp(sL_x,sL_y3,1,false),dots(sL_ctxX,sL_ctxY)]);
panel(0,8,[-0.22,1.21],yTicksSaw,[band(sLa_bx,sLa_bu,sLa_bl,false),smp(sLa_x,sLa1),smp(sLa_x,sLa2),smp(sLa_x,sLa3),dots(sL_ctxX,sL_ctxY)]);
panel(1,6,[-0.16,1.23],yTicksSaw,[band(sRg_bx,sRg_bu,sRg_bl,false),thick(cat(sR_x,27,[]),cat(sR_y,27,[]),[0,5],3,3),smp(sR_x,sR_y,1,false),smp(cat(sR_x,27,sRg2_tx),cat(sR_y,27,sRg2_ty),1,false),smp(cat(sR_x,27,sRg3_tx),cat(sR_y,27,sRg3_ty),1,false),smp(cat(sR_x,27,sRg4_tx),cat(sR_y,27,sRg4_ty),1,false),dots(sR_ctxX,sR_ctxY)]);
panel(1,7,[-0.12,1.23],yTicksSaw,[thick(sR_x,sR_y,[0,4.2],3,8),smp(sR_x,sR_y,1,false),smp(cat(sR_x,37,sRc2_tx),cat(sR_y,37,sRc2_ty),1,false),smp(cat(sR_x,37,sRc3_tx),cat(sR_y,37,sRc3_ty),1,false),dots(sR_ctxX,sR_ctxY)]);
panel(1,8,[-0.22,1.21],yTicksSaw,[band(sRa_bx,sRa_bu,sRa_bl,false),smp(sRa_x,sRa1),smp(sRa_x,sRa2),smp(sRa_x,sRa3),dots(sR_ctxX,sR_ctxY)]);
</script>
</body></html>
